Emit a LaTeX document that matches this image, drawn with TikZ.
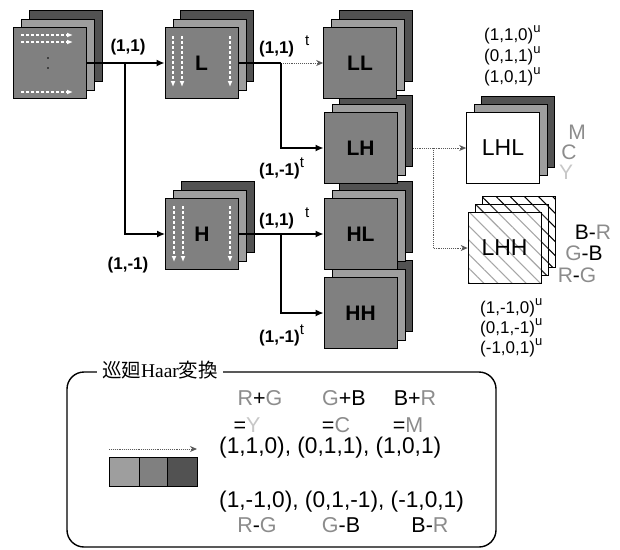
\documentclass[tikz,border=0pt]{standalone}
\usepackage{fontspec}
\setmainfont{Liberation Sans}
\newfontfamily\cjk{Noto Sans CJK JP}
\newfontfamily\haarfont{Liberation Serif}
\usetikzlibrary{arrows.meta,patterns.meta}
\definecolor{gfront}{gray}{0.50}
\definecolor{gmid}{gray}{0.62}
\definecolor{gback}{gray}{0.32}
\definecolor{cR}{gray}{0.55}
\definecolor{cY}{gray}{0.78}
\newcommand\Rc{\textcolor{cR}{R}}
\newcommand\Gc{\textcolor{cR}{G}}
\newcommand\Bc{\textcolor{black}{B}}
\newcommand\mystack[4]{%
  \node[layb] (#1b) at (#2+15.5,#3-17.5) {};
  \node[laym] (#1m) at (#2+8,#3-8.5) {};
  \node[layf,big] (#1) at (#2,#3) {#4};
}
\begin{document}
\begin{tikzpicture}[x=1pt,y=-1pt,
  lay/.style={draw=black,line width=0.7,minimum width=73,minimum height=71,inner sep=0},
  layf/.style={lay,fill=gfront},
  laym/.style={lay,fill=gmid},
  layb/.style={lay,fill=gback},
  big/.style={font=\fontsize{21}{21}\selectfont\bfseries},
  hatch/.style={lay,preaction={fill=white},pattern={Lines[angle=-45,distance=10pt,line width=1.1pt]},pattern color=#1},
  arr/.style={line width=1.8,-{Latex[length=8pt,width=7pt]}},
  seg/.style={line width=1.8},
  dotarr/.style={line width=0.9,densely dotted,gray!70!black,-{Stealth[length=7pt,width=6pt]}},
  warr/.style={white,line width=1.3,densely dashed,-{Latex[length=6pt,width=5pt]}},
  lab/.style={font=\fontsize{17}{17}\selectfont\bfseries,inner sep=0},
  ulab/.style={font=\fontsize{17}{17}\selectfont,inner sep=0,anchor=west},
  col/.style={font=\fontsize{21}{21}\selectfont,inner sep=0},
  btxt/.style={font=\fontsize{21.5}{21.5}\selectfont,inner sep=0},
  tup/.style={font=\fontsize{22.7}{22.7}\selectfont,inner sep=0,anchor=west}
]
\useasboundingbox (0,0) rectangle (620,549);

% ---------- stacks ----------
\mystack{src}{50}{63}{}
\mystack{L}{201.5}{63}{L}
\mystack{H}{202}{234}{H}
\mystack{HH}{360.5}{313}{HH}
\mystack{HL}{360.5}{234}{HL}
\mystack{LH}{360.5}{148}{LH}
\mystack{LL}{360}{63}{LL}

% dots in source
\fill (48,58) circle (0.9);
\fill (48,68) circle (0.9);
% white arrows
\draw[warr] (21,35) -- (73,35);
\draw[warr] (21,42) -- (73,42);
\draw[warr] (21,92) -- (73,92);
\draw[warr] (173,36) -- (173,87);
\draw[warr] (182,36) -- (182,87);
\draw[warr] (230,36) -- (230,87);
\draw[warr] (174,206) -- (174,262);
\draw[warr] (183,206) -- (183,262);
\draw[warr] (230,206) -- (230,262);

% LHL stack
\node[layb] (LHLb) at (518,132) {};
\node[laym] (LHLm) at (510.5,140) {};
\node[lay,fill=white,font=\fontsize{23}{23}\selectfont] (LHL) at (503,148) {LHL};
% LHH stack
\node[hatch=black] (LHHb) at (518.5,232) {};
\node[hatch=black!80] (LHHm) at (511.5,240) {};
\node[hatch=gray!70,font=\fontsize{23}{23}\selectfont] (LHH) at (504.5,248) {LHH};

% ---------- connectors ----------
\coordinate (j1) at (125,63);
\draw[arr] (src.east) -- (L.west);
\draw[arr] (j1) |- (H.west);

\coordinate (j2) at (281,63);
\draw[seg] (L.east) -- (j2);
\draw[dotarr] (j2) -- (LL.west);
\draw[arr] (j2) |- (LH.west);

\coordinate (j3) at (281,234);
\draw[arr] (H.east) -- (HL.west);
\draw[arr] (j3) |- (HH.west);

\coordinate (j4) at (433,148);
\draw[dotarr] (LHb.east |- LH.center) -- (LHL.west);
\draw[dotarr] (j4) |- (LHH.west);

% ---------- labels ----------
\node[lab] (l1) at (128,47) {(1,1)};
\node[lab] (l2) at (128,265) {(1,-1)};
\node[lab,anchor=west] (l3) at (259,46) {(1,1)\hspace{11pt}\raisebox{8pt}{\fontsize{15}{15}\selectfont\mdseries t}};
\node[lab,anchor=west] (l4) at (259,168) {(1,-1)\raisebox{8pt}{\fontsize{15}{15}\selectfont\mdseries t}};
\node[lab,anchor=west] (l5) at (259,218) {(1,1)\hspace{11pt}\raisebox{8pt}{\fontsize{15}{15}\selectfont\mdseries t}};
\node[lab,anchor=west] (l6) at (259,335) {(1,-1)\raisebox{8pt}{\fontsize{15}{15}\selectfont\mdseries t}};

\node[ulab] (u1) at (484,35) {(1,1,0)\raisebox{8pt}{\fontsize{13}{13}\selectfont u}};
\node[ulab] (u2) at (484,56) {(0,1,1)\raisebox{8pt}{\fontsize{13}{13}\selectfont u}};
\node[ulab] (u3) at (484,77) {(1,0,1)\raisebox{8pt}{\fontsize{13}{13}\selectfont u}};
\node[ulab] (v1) at (480,308) {(1,-1,0)\raisebox{8pt}{\fontsize{13}{13}\selectfont u}};
\node[ulab] (v2) at (480,328) {(0,1,-1)\raisebox{8pt}{\fontsize{13}{13}\selectfont u}};
\node[ulab] (v3) at (480,348) {(-1,0,1)\raisebox{8pt}{\fontsize{13}{13}\selectfont u}};

\node[col,text=cR] (cm) at (577,132) {M};
\node[col,text=cR] (cc) at (569,152) {C};
\node[col,text=cY] (cy) at (566,172) {Y};
\node[col] (dbr) at (593,232) {\Bc-\Rc};
\node[col] (dgb) at (584,253) {\Gc-\Bc};
\node[col] (drg) at (577,275) {\Rc-\Gc};

% ---------- bottom box ----------
\draw[line width=1.4,rounded corners=17] (67,372) rectangle (496,547);
\node[fill=white,inner xsep=5pt,inner ysep=1pt,font=\fontsize{19.5}{19.5}\selectfont] (title) at (160,370) {{\cjk 巡廻}{\haarfont Haar}{\cjk 変換}};

\node[btxt] (t1) at (260,398) {\Rc+\Gc};
\node[btxt] (t2) at (344,398) {\Gc+\Bc};
\node[btxt] (t3) at (415,398) {\Bc+\Rc};
\node[btxt] (t4) at (247,425) {=\textcolor{cY}{Y}};
\node[btxt] (t5) at (336,425) {=\textcolor{cR}{C}};
\node[btxt] (t6) at (408,425) {=\textcolor{cR}{M}};
\node[tup] (t7) at (219,448) {(1,1,0), (0,1,1), (1,0,1)};
\node[tup] (t8) at (219,502) {(1,-1,0), (0,1,-1), (-1,0,1)};
\node[btxt] (t9) at (257,525) {\Rc-\Gc};
\node[btxt] (t10) at (341,525) {\Gc-\Bc};
\node[btxt] (t11) at (430,525) {\Bc-\Rc};

% strip
\node[draw=black,line width=0.6,fill=gmid,minimum width=30,minimum height=29,inner sep=0] (s1) at (124,471.5) {};
\node[draw=black,line width=0.6,fill=gfront,minimum width=28,minimum height=29,inner sep=0] (s2) at (153,471.5) {};
\node[draw=black,line width=0.6,fill=gback,minimum width=30,minimum height=29,inner sep=0] (s3) at (182,471.5) {};
\coordinate (sa) at (109,449);
\coordinate (sb) at (197,449);
\draw[dotarr] (sa) -- (sb);
\end{tikzpicture}
\end{document}
